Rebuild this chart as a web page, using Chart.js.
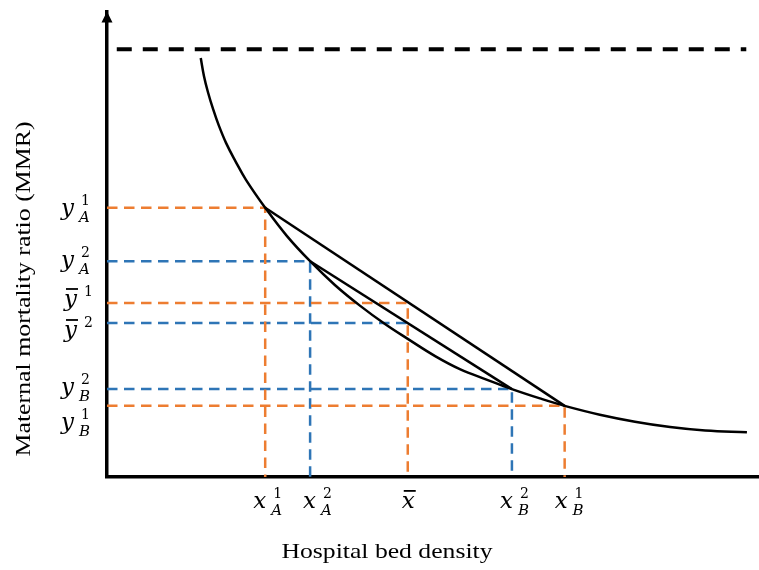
<!DOCTYPE html>
<html>
<head>
<meta charset="utf-8">
<script src="https://cdn.jsdelivr.net/npm/chart.js@4.4.0/dist/chart.umd.min.js"></script>
<style>
  html, body { margin: 0; padding: 0; background: #fff; }
  #wrap { width: 759px; height: 570px; }
</style>
</head>
<body>
<div id="wrap"><canvas id="chart" width="759" height="570"></canvas></div>
<script>
// ---- data (both axes in 0-100 units) ----
const curveX = [14.4, 14.9, 15.5, 16.3, 17.2, 18.3, 19.7, 21.35, 24.3, 27.65, 31.2, 35.0, 38.9, 42.7, 46.2, 50.4, 54.2, 58.4, 62.2, 66.5, 70.3, 75.7, 81.1, 86.5, 91.9, 98.3];
const curveY = [90.1, 86.2, 82.8, 79.1, 75.5, 71.8, 68.0, 63.9, 57.9, 51.8, 46.4, 41.3, 36.8, 32.9, 29.7, 26.0, 23.2, 20.9, 18.9, 16.9, 15.3, 13.4, 11.9, 10.75, 10.0, 9.6];

// x_A^1, x_A^2, x-bar, x_B^2, x_B^1
const markX = [24.3, 31.2, 46.2, 62.2, 70.3];
// y_A^1, y_A^2, y-bar^1, y-bar^2, y_B^2, y_B^1
const markY = [57.9, 46.4, 37.4, 33.1, 18.9, 15.3];

// upper bound (dashed black)
const capX = [1.5, 98.2];
const capY = [92.0, 92.0];

// tick labels: [letter, superscript, subscript, bar]
const xTickText = [['x', '1', 'A', false], ['x', '2', 'A', false], ['x', '', '', true], ['x', '2', 'B', false], ['x', '1', 'B', false]];
const yTickText = [['y', '1', 'A', false], ['y', '2', 'A', false], ['y', '1', '', true], ['y', '2', '', true], ['y', '2', 'B', false], ['y', '1', 'B', false]];

const xTitle = 'Hospital bed density';
const yTitle = 'Maternal mortality ratio (MMR)';

const ORANGE = '#ED7D31';
const BLUE = '#2E75B6';

/* ------------------------------
   Helpers
------------------------------ */
const pt = (x, y) => ({ x, y });

function guide(ix, iy, color, down = true) {
  const data = [pt(0, markY[iy]), pt(markX[ix], markY[iy])];
  if (down) data.push(pt(markX[ix], 0));
  return {
    data,
    borderColor: color,
    borderWidth: 2.5,
    borderDash: [10.5, 6.5],
    pointRadius: 0,
    showLine: true,
    tension: 0
  };
}

function solid(data, tension = 0) {
  return {
    data,
    borderColor: '#000',
    borderWidth: 2.5,
    pointRadius: 0,
    showLine: true,
    tension
  };
}

// label layout (pixel nudges, not data)
const xLabelDx = [-12, -7, -6, -12, -10];
const yLabelDy = [7, 6, 3, 14, 5, 23];

function drawMath(ctx, left, base, item) {
  const [m, sup, sub, bar] = item;
  ctx.textAlign = 'left';
  ctx.textBaseline = 'alphabetic';
  ctx.font = 'italic 23px "DejaVu Serif"';
  ctx.fillText(m, left, base);
  const w = ctx.measureText(m).width;
  if (bar) {
    ctx.fillRect(left + 2, base - 18, w - 1, 1.8);
  }
  const sx = left + w + 6;
  if (sup) {
    ctx.font = '14px "DejaVu Serif"';
    ctx.fillText(sup, sx + 1, base - 10);
  }
  if (sub) {
    ctx.font = 'italic 15px "DejaVu Serif"';
    ctx.fillText(sub, sx - 1, base + 7);
  }
}

const decorPlugin = {
  id: 'decor',
  afterDraw(chart) {
    const { ctx, chartArea, scales } = chart;
    ctx.save();
    ctx.fillStyle = '#000';

    // arrow head on the y axis
    const ax = chartArea.left;
    ctx.beginPath();
    ctx.moveTo(ax, chartArea.top - 0.5);
    ctx.lineTo(ax - 5.5, chartArea.top + 10.5);
    ctx.lineTo(ax + 5.5, chartArea.top + 10.5);
    ctx.closePath();
    ctx.fill();

    // math tick labels
    xTickText.forEach((item, i) => {
      const px = scales.x.getPixelForValue(markX[i]);
      drawMath(ctx, px + xLabelDx[i], 508, item);
    });
    yTickText.forEach((item, i) => {
      const py = scales.y.getPixelForValue(markY[i]);
      drawMath(ctx, item[3] ? 64 : 61, py + yLabelDy[i], item);
    });

    // axis titles
    ctx.font = '22px "Liberation Serif"';
    ctx.textAlign = 'center';
    ctx.textBaseline = 'alphabetic';
    let w = ctx.measureText(xTitle).width;
    ctx.save();
    ctx.translate(387, 558);
    ctx.scale(211 / w, 1);
    ctx.fillText(xTitle, 0, 0);
    ctx.restore();

    w = ctx.measureText(yTitle).width;
    ctx.save();
    ctx.translate(30, 289);
    ctx.rotate(-Math.PI / 2);
    ctx.scale(335 / w, 1);
    ctx.fillText(yTitle, 0, 0);
    ctx.restore();

    ctx.restore();
  }
};

/* ------------------------------
   Chart
------------------------------ */
const curve = curveX.map((x, i) => pt(x, curveY[i]));

new Chart(document.getElementById('chart'), {
  type: 'scatter',
  data: {
    datasets: [
      solid(curve, 0.4),
      solid([pt(markX[0], markY[0]), pt(markX[4], markY[5])]),
      solid([pt(markX[1], markY[1]), pt(markX[3], markY[4])]),
      {
        data: capX.map((x, i) => pt(x, capY[i])),
        borderColor: '#000',
        borderWidth: 4,
        borderDash: [15, 11],
        pointRadius: 0,
        showLine: true
      },
      guide(0, 0, ORANGE),
      guide(2, 2, ORANGE),
      guide(4, 5, ORANGE),
      guide(1, 1, BLUE),
      guide(2, 3, BLUE, false),
      guide(3, 4, BLUE)
    ]
  },
  options: {
    responsive: false,
    animation: false,
    layout: { padding: { left: 107, top: 12, right: 1, bottom: 93 } },
    scales: {
      x: {
        min: 0, max: 100,
        ticks: { display: false },
        grid: { display: false, drawTicks: false },
        border: { color: '#000', width: 3.5 }
      },
      y: {
        min: 0, max: 100,
        ticks: { display: false },
        grid: { display: false, drawTicks: false },
        border: { color: '#000', width: 3.5 }
      }
    },
    plugins: {
      legend: { display: false },
      tooltip: { enabled: false }
    }
  },
  plugins: [decorPlugin]
});
</script>
</body>
</html>
